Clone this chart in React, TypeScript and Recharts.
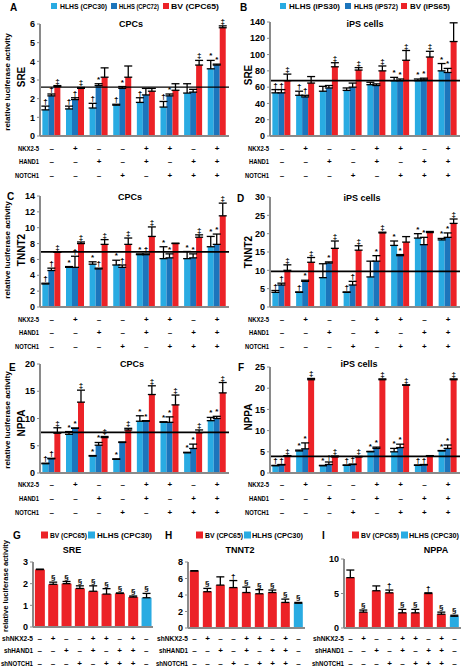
import { BarChart, Bar, XAxis, YAxis, ReferenceLine, ErrorBar, LabelList, Cell } from "recharts"

const FONT = "'Liberation Sans', Arial, sans-serif"
const LIGHT = "#29ABE2"
const DARK = "#1C75BC"
const RED = "#EC2227"

// overexpression conditions, panels A-F
const nkx = ["-", "+", "-", "-", "+", "+", "-", "+"]
const hand = ["-", "-", "+", "-", "+", "-", "+", "+"]
const notch = ["-", "-", "-", "+", "-", "+", "+", "+"]
// knockdown conditions, panels G-I
const shNkx = ["-", "+", "-", "-", "+", "+", "-", "+", "-"]
const shHand = ["-", "-", "+", "-", "+", "-", "+", "+", "-"]
const shNotch = ["-", "-", "-", "+", "-", "+", "+", "+", "-"]

// A: SRE in CPCs
const aHlhs30 = [1.4, 1.45, 1.5, 1.65, 1.8, 1.55, 2.3, 3.6]
const aHlhs30Err = [0.2, 0.15, 0.25, 0.05, 0.25, 0.3, 0.5, 0.45]
const aHlhs30Sig = ["†", "†", "†", "†", "†", "†", "", "*"]
const aHlhs72 = [2.15, 1.95, 2.7, 2.55, 2.2, 2.15, 2.35, 3.8]
const aHlhs72Err = [0.1, 0.1, 0.1, 0.1, 0.35, 0.1, 0.15, 0.05]
const aHlhs72Sig = ["†", "†", "*", "*", "", "*", "", "*"]
const aBv = [2.65, 2.55, 3.15, 3.15, 2.4, 2.45, 3.8, 5.8]
const aBvErr = [0.05, 0.05, 0.5, 0.6, 0.15, 0.35, 0.25, 0.1]
const aBvSig = ["‡", "‡", "", "", "", "", "‡", "‡"]

// B: SRE in iPS cells
const bHlhs30 = [53, 50, 55, 56, 63, 68, 68, 80]
const bHlhs30Err = [4, 5, 6, 3, 3, 4, 2, 9]
const bHlhs30Sig = ["†", "†", "", "", "", "*", "*", "*"]
const bHlhs72 = [53, 48, 59, 60, 62, 68, 69, 78]
const bHlhs72Err = [4, 2, 3, 5, 2, 2, 2, 5]
const bHlhs72Sig = ["†", "†", "", "", "", "*", "*", "*"]
const bBv = [68, 65, 85, 81, 80, 93, 97, 116]
const bBvErr = [8, 8, 5, 3, 6, 12, 7, 23]
const bBvSig = ["‡", "", "‡", "‡", "‡", "‡", "‡", ""]

// C: TNNT2 in CPCs
const cHlhs30 = [2.9, 5.0, 5.4, 5.3, 6.6, 6.1, 6.1, 7.6]
const cHlhs30Err = [0.1, 0.1, 0.3, 0.6, 0.1, 1.5, 0.9, 1.3]
const cHlhs30Sig = ["†", "*", "*", "*", "*", "*", "*", "*"]
const cHlhs72 = [4.6, 5.0, 4.8, 5.0, 6.6, 6.2, 6.2, 7.9]
const cHlhs72Err = [0.3, 1.4, 0.1, 0.3, 0.1, 0.5, 0.5, 1.3]
const cHlhs72Sig = ["†", "†", "†", "†", "†", "*", "*", "*"]
const cBv = [6.9, 8.0, 7.9, 7.9, 8.9, 8.0, 8.8, 11.5]
const cBvErr = [0.05, 0.2, 0.6, 0.8, 1.2, 0.05, 0.3, 1.6]
const cBvSig = ["‡", "‡", "‡", "‡", "‡", "", "‡", "‡"]

// D: TNNT2 in iPS cells
const dHlhs30 = [4, 4, 8, 4, 8.2, 16.8, 18.8, 18.3]
const dHlhs30Err = [0.5, 0.1, 3.8, 0.1, 4.3, 1.2, 1.2, 0.4]
const dHlhs30Sig = ["†", "†", "", "†", "", "*", "*", "*"]
const dHlhs72 = [6, 7, 12, 6, 12.5, 14, 17, 19]
const dHlhs72Err = [0.5, 0.3, 0.3, 1, 1.5, 0.3, 2, 1.2]
const dHlhs72Sig = ["†", "*", "*", "†", "*", "*", "*", "*"]
const dBv = [10, 12.2, 16, 15.5, 20.2, 17.7, 20.3, 22.8]
const dBvErr = [1.5, 1.3, 2, 1.2, 0.2, 1.5, 0.3, 1.2]
const dBvSig = ["‡", "‡", "‡", "‡", "‡", "", "", "‡"]

// E: NPPA in CPCs
const eHlhs30 = [1.7, 7.1, 3.1, 2.5, 9.5, 9.3, 3.7, 9.6]
const eHlhs30Err = [0.1, 0.5, 0.1, 0.1, 1.0, 0.1, 0.1, 0.6]
const eHlhs30Sig = ["†", "*", "*", "*", "*", "*", "*", "*"]
const eHlhs72 = [2.6, 8.2, 5.1, 5.6, 9.5, 9.3, 4.5, 10.0]
const eHlhs72Err = [0.1, 0.05, 0.5, 0.1, 0.1, 1.0, 0.8, 0.4]
const eHlhs72Sig = ["†", "*", "*", "", "*", "*", "*", "*"]
const eBv = [7.3, 13.0, 6.5, 7.9, 14.4, 12.5, 7.4, 14.7]
const eBvErr = [1.0, 2.2, 0.2, 0.3, 1.6, 1.8, 0.5, 1.9]
const eBvSig = ["‡", "‡", "‡", "‡", "‡", "‡", "‡", "‡"]

// F: NPPA in iPS cells
const fHlhs30 = [1.7, 5.2, 1.7, 1.8, 5.0, 5.0, 1.8, 5.2]
const fHlhs30Err = [0.1, 0.2, 0.1, 0.1, 0.1, 0.8, 0.1, 0.1]
const fHlhs30Sig = ["†", "*", "*", "†", "*", "*", "†", "*"]
const fHlhs72 = [1.9, 5.7, 2.0, 2.0, 5.8, 6.0, 1.9, 5.8]
const fHlhs72Err = [0.1, 1.4, 0.6, 0.1, 0.3, 0.8, 0.1, 0.8]
const fHlhs72Sig = ["†", "*", "†", "†", "*", "*", "†", "*"]
const fBv = [4.0, 22, 3.8, 3.8, 22, 20.7, 4.0, 22]
const fBvErr = [0.1, 0.3, 0.2, 0.1, 0.2, 0.1, 0.1, 0.2]
const fBvSig = ["‡", "‡", "‡", "‡", "‡", "‡", "", "‡"]

// G-I: knockdown in BV CPC65, last bar HLHS CPC30
const gSre = [2.65, 1.97, 2.0, 1.78, 1.65, 1.52, 1.55, 1.38, 1.35]
const gSreErr = [0.02, 0.1, 0.1, 0.12, 0.25, 0.25, 0.02, 0.05, 0.2]
const gSreSig = ["", "§", "§", "§", "§", "§", "§", "§", "§"]
const hTnnt2 = [6.9, 4.4, 5.2, 4.9, 4.3, 4.15, 4.3, 3.1, 3.0]
const hTnnt2Err = [0.05, 0.4, 1.0, 0.85, 0.65, 0.5, 0.3, 0.4, 0.1]
const hTnnt2Sig = ["", "§", "", "†", "§", "§", "§", "§", "§"]
const iNppa = [7.3, 2.3, 5.4, 5.1, 2.2, 2.2, 5.0, 2.0, 1.7]
const iNppaErr = [1.1, 0.3, 0.7, 0.4, 0.5, 0.5, 0.1, 0.3, 0.15]
const iNppaSig = ["", "§", "", "†", "§", "§", "†", "§", "§"]
const kdColors = [RED, RED, RED, RED, RED, RED, RED, RED, LIGHT]

interface Series {
  values: number[]
  errors: number[]
  marks: string[]
  color: string
  colors?: string[]
}

interface PanelProps {
  x: number
  y: number
  w: number
  h: number
  max: number
  ticks: number[]
  refY?: number
  refW?: number
  rows: string[][]
  rowStart: number
  rowStep: number
  gap: string
  series: Series[]
}

const YW = 22
const MT = 16
const MR = 3

function markRenderer(s: Series) {
  return (props: any) => {
    const vb = props.viewBox && props.viewBox.width != null ? props.viewBox : props
    const i = props.index
    const m = s.marks[i]
    if (!m) return null
    const v = s.values[i]
    const hgt = Math.abs(vb.height)
    const errPx = v > 0 ? (s.errors[i] * hgt) / v : 0
    return (
      <text
        x={vb.x + vb.width / 2}
        y={vb.y - errPx - 2}
        textAnchor="middle"
        fontSize={8}
        fontWeight={700}
        fontFamily={FONT}
        fill="#000"
      >
        {m}
      </text>
    )
  }
}

function Panel({ x, y, w, h, max, ticks, refY, refW = 1.8, rows, rowStart, rowStep, gap, series }: PanelProps) {
  const n = series[0].values.length
  const data = Array.from({ length: n }, (_, i) => {
    const d: any = { name: rows.map((r) => r[i]).join("|") }
    series.forEach((s, k) => {
      d["v" + k] = s.values[i]
      d["e" + k] = [0, s.errors[i]]
    })
    return d
  })
  const xh = rowStart + rowStep * 2 + 8
  const base = MT + h

  const RowTick = (p: any) => {
    const parts = String(p.payload.value).split("|")
    return (
      <g>
        {parts.map((t, k) => (
          <text
            key={k}
            x={p.x}
            y={base + rowStart + rowStep * k}
            textAnchor="middle"
            dominantBaseline="central"
            fontSize={8}
            fontWeight={700}
            fontFamily={FONT}
            fill="#000"
          >
            {t === "-" ? "–" : t}
          </text>
        ))}
      </g>
    )
  }

  return (
    <div style={{ position: "absolute", left: x - YW, top: y - MT }}>
      <BarChart
        width={w + YW + MR}
        height={h + MT + xh}
        data={data}
        margin={{ top: MT, right: MR, left: 0, bottom: 0 }}
        barGap={0}
        barCategoryGap={gap}
      >
        <XAxis
          dataKey="name"
          height={xh}
          interval={0}
          tick={RowTick}
          tickLine={false}
          axisLine={{ stroke: "#8a8a8a", strokeWidth: 2 }}
        />
        <YAxis
          width={YW}
          domain={[0, max]}
          ticks={ticks}
          interval={0}
          tickSize={3}
          tickLine={{ stroke: "#8a8a8a" }}
          axisLine={{ stroke: "#8a8a8a", strokeWidth: 2 }}
          tick={{ fill: "#000", fontSize: 9, fontWeight: 700, fontFamily: FONT }}
        />
        {series.map((s, k) => (
          <Bar key={k} dataKey={"v" + k} fill={s.color} isAnimationActive={false}>
            {s.colors && s.colors.map((c, i) => <Cell key={i} fill={c} />)}
            <ErrorBar dataKey={"e" + k} width={4} stroke="#000" strokeWidth={1.3} direction="y" />
            <LabelList dataKey={"v" + k} content={markRenderer(s)} />
          </Bar>
        ))}
        {refY != null && <ReferenceLine y={refY} stroke="#000" strokeWidth={refW} />}
      </BarChart>
    </div>
  )
}

function Txt(props: {
  x: number
  y: number
  size?: number
  anchor?: "start" | "middle" | "end"
  rot?: boolean
  len?: number
  children: string
}) {
  const { x, y, size = 9, anchor = "start", rot, len, children } = props
  return (
    <text
      x={x}
      y={y}
      fontSize={size}
      fontWeight={700}
      fontFamily={FONT}
      textAnchor={anchor}
      dominantBaseline="central"
      fill="#000"
      textLength={len}
      lengthAdjust={len ? "spacingAndGlyphs" : undefined}
      transform={rot ? `rotate(-90 ${x} ${y})` : undefined}
    >
      {children}
    </text>
  )
}

function LegendItem(props: { x: number; y: number; tx: number; len: number; color: string; label: string; sq?: number }) {
  const { x, y, tx, len, color, label, sq = 6 } = props
  return (
    <g>
      <rect x={x} y={y - sq / 2} width={sq} height={sq} fill={color} />
      <Txt x={tx} y={y} size={8} len={len}>
        {label}
      </Txt>
    </g>
  )
}

const ovRows = [nkx, hand, notch]
const kdRows = [shNkx, shHand, shNotch]
const ovLabels = ["NKX2-5", "HAND1", "NOTCH1"]
const ovLens = [21, 20, 24]
const kdLabels = ["shNKX2-5", "shHAND1", "shNOTCH1"]
const kdLens = [31, 29, 32]

export default function App() {
  return (
    <div
      style={{
        position: "absolute",
        left: 0,
        top: 0,
        width: 466,
        height: 668,
        background: "#fff",
        overflow: "hidden",
      }}
    >
      <Panel
        x={40} y={24} w={189} h={112} max={6} ticks={[0, 1, 2, 3, 4, 5, 6]} refY={2.62} refW={1.2}
        rows={ovRows} rowStart={12} rowStep={13.5} gap="10%"
        series={[
          { values: aHlhs30, errors: aHlhs30Err, marks: aHlhs30Sig, color: LIGHT },
          { values: aHlhs72, errors: aHlhs72Err, marks: aHlhs72Sig, color: DARK },
          { values: aBv, errors: aBvErr, marks: aBvSig, color: RED },
        ]}
      />
      <Panel
        x={270} y={22} w={190} h={114} max={140} ticks={[0, 20, 40, 60, 80, 100, 120, 140]} refY={68}
        rows={ovRows} rowStart={12} rowStep={13.5} gap="10%"
        series={[
          { values: bHlhs30, errors: bHlhs30Err, marks: bHlhs30Sig, color: LIGHT },
          { values: bHlhs72, errors: bHlhs72Err, marks: bHlhs72Sig, color: DARK },
          { values: bBv, errors: bBvErr, marks: bBvSig, color: RED },
        ]}
      />
      <Panel
        x={40} y={196} w={189} h={111} max={14} ticks={[0, 2, 4, 6, 8, 10, 12, 14]} refY={6.95}
        rows={ovRows} rowStart={12} rowStep={13.5} gap="10%"
        series={[
          { values: cHlhs30, errors: cHlhs30Err, marks: cHlhs30Sig, color: LIGHT },
          { values: cHlhs72, errors: cHlhs72Err, marks: cHlhs72Sig, color: DARK },
          { values: cBv, errors: cBvErr, marks: cBvSig, color: RED },
        ]}
      />
      <Panel
        x={270} y={197} w={190} h={110} max={30} ticks={[0, 5, 10, 15, 20, 25, 30]} refY={9.7}
        rows={ovRows} rowStart={12} rowStep={13.5} gap="10%"
        series={[
          { values: dHlhs30, errors: dHlhs30Err, marks: dHlhs30Sig, color: LIGHT },
          { values: dHlhs72, errors: dHlhs72Err, marks: dHlhs72Sig, color: DARK },
          { values: dBv, errors: dBvErr, marks: dBvSig, color: RED },
        ]}
      />
      <Panel
        x={40} y={364} w={189} h={109} max={20} ticks={[0, 5, 10, 15, 20]} refY={7.45}
        rows={ovRows} rowStart={11} rowStep={14} gap="10%"
        series={[
          { values: eHlhs30, errors: eHlhs30Err, marks: eHlhs30Sig, color: LIGHT },
          { values: eHlhs72, errors: eHlhs72Err, marks: eHlhs72Sig, color: DARK },
          { values: eBv, errors: eBvErr, marks: eBvSig, color: RED },
        ]}
      />
      <Panel
        x={270} y={367} w={190} h={106} max={25} ticks={[0, 5, 10, 15, 20, 25]} refY={3.9}
        rows={ovRows} rowStart={11} rowStep={14} gap="10%"
        series={[
          { values: fHlhs30, errors: fHlhs30Err, marks: fHlhs30Sig, color: LIGHT },
          { values: fHlhs72, errors: fHlhs72Err, marks: fHlhs72Sig, color: DARK },
          { values: fBv, errors: fBvErr, marks: fBvSig, color: RED },
        ]}
      />
      <Panel
        x={33} y={562} w={120} h={65} max={3} ticks={[0, 1, 2, 3]}
        rows={kdRows} rowStart={11} rowStep={12.5} gap="14%"
        series={[{ values: gSre, errors: gSreErr, marks: gSreSig, color: RED, colors: kdColors }]}
      />
      <Panel
        x={188} y={562} w={117} h={66} max={8} ticks={[0, 2, 4, 6, 8]}
        rows={kdRows} rowStart={10} rowStep={12.5} gap="14%"
        series={[{ values: hTnnt2, errors: hTnnt2Err, marks: hTnnt2Sig, color: RED, colors: kdColors }]}
      />
      <Panel
        x={344} y={559} w={117} h={69} max={10} ticks={[0, 5, 10]}
        rows={kdRows} rowStart={10} rowStep={12.5} gap="14%"
        series={[{ values: iNppa, errors: iNppaErr, marks: iNppaSig, color: RED, colors: kdColors }]}
      />

      <svg
        width={466}
        height={668}
        style={{ position: "absolute", left: 0, top: 0, pointerEvents: "none" }}
      >
        <Txt x={10} y={7} size={10}>A</Txt>
        <Txt x={240} y={7} size={10}>B</Txt>
        <Txt x={7} y={196} size={10}>C</Txt>
        <Txt x={237} y={198} size={10}>D</Txt>
        <Txt x={9} y={367} size={10}>E</Txt>
        <Txt x={238} y={367} size={10}>F</Txt>
        <Txt x={13} y={535} size={10}>G</Txt>
        <Txt x={165} y={535} size={10}>H</Txt>
        <Txt x={322} y={535} size={10}>I</Txt>

        <LegendItem x={51} y={6} tx={60} len={47} color={LIGHT} label="HLHS (CPC30)" />
        <LegendItem x={111} y={6} tx={119} len={40} color={DARK} label="HLHS (CPC72)" />
        <LegendItem x={163} y={6} tx={171} len={48} color={RED} label="BV (CPC65)" />
        <LegendItem x={280} y={6} tx={289} len={51} color={LIGHT} label="HLHS (iPS30)" />
        <LegendItem x={345} y={6} tx={354} len={44} color={DARK} label="HLHS (iPS72)" />
        <LegendItem x={401} y={6} tx={410} len={40} color={RED} label="BV (iPS65)" />
        <LegendItem x={41} y={535} sq={7} tx={50} len={37} color={RED} label="BV (CPC65)" />
        <LegendItem x={88} y={535} sq={7} tx={97} len={55} color={LIGHT} label="HLHS (CPC30)" />
        <LegendItem x={196} y={535} sq={7} tx={205} len={38} color={RED} label="BV (CPC65)" />
        <LegendItem x={244} y={535} sq={7} tx={252} len={51} color={LIGHT} label="HLHS (CPC30)" />
        <LegendItem x={352} y={535} sq={7} tx={361} len={38} color={RED} label="BV (CPC65)" />
        <LegendItem x={401} y={535} sq={7} tx={409} len={50} color={LIGHT} label="HLHS (CPC30)" />

        <Txt x={131} y={24} anchor="middle">CPCs</Txt>
        <Txt x={365} y={24} anchor="middle">iPS cells</Txt>
        <Txt x={130} y={197} anchor="middle">CPCs</Txt>
        <Txt x={362} y={198} anchor="middle">iPS cells</Txt>
        <Txt x={132} y={364} anchor="middle">CPCs</Txt>
        <Txt x={359} y={364} anchor="middle">iPS cells</Txt>
        <Txt x={72} y={550} anchor="middle">SRE</Txt>
        <Txt x={240} y={550} anchor="middle">TNNT2</Txt>
        <Txt x={436} y={550} anchor="middle">NPPA</Txt>

        <Txt x={7} y={82} size={8} anchor="middle" rot>relative luciferase activity</Txt>
        <Txt x={7} y={250} size={8} anchor="middle" rot>relative luciferase activity</Txt>
        <Txt x={7} y={420} size={8} anchor="middle" rot>relative luciferase activity</Txt>
        <Txt x={5} y={586} size={8} anchor="middle" rot len={92}>relative luciferase activity</Txt>

        <Txt x={21} y={77} size={10} anchor="middle" rot>SRE</Txt>
        <Txt x={248} y={75} size={10} anchor="middle" rot>SRE</Txt>
        <Txt x={21} y={250} size={10} anchor="middle" rot>TNNT2</Txt>
        <Txt x={248} y={252} size={10} anchor="middle" rot>TNNT2</Txt>
        <Txt x={21} y={423} size={10} anchor="middle" rot>NPPA</Txt>
        <Txt x={248} y={417} size={10} anchor="middle" rot>NPPA</Txt>

        {ovLabels.map((l, k) => (
          <g key={"ov" + k}>
            <Txt x={39 - ovLens[k]} y={148 + k * 13.5} size={7} len={ovLens[k]}>{l}</Txt>
            <Txt x={269 - ovLens[k]} y={148 + k * 13.5} size={7} len={ovLens[k]}>{l}</Txt>
            <Txt x={39 - ovLens[k]} y={319 + k * 13.5} size={7} len={ovLens[k]}>{l}</Txt>
            <Txt x={269 - ovLens[k]} y={319 + k * 13.5} size={7} len={ovLens[k]}>{l}</Txt>
            <Txt x={39 - ovLens[k]} y={484 + k * 14} size={7} len={ovLens[k]}>{l}</Txt>
            <Txt x={269 - ovLens[k]} y={484 + k * 14} size={7} len={ovLens[k]}>{l}</Txt>
          </g>
        ))}
        {kdLabels.map((l, k) => (
          <g key={"kd" + k}>
            <Txt x={33 - kdLens[k]} y={638 + k * 12.5} size={7} len={kdLens[k]}>{l}</Txt>
            <Txt x={188 - kdLens[k]} y={638 + k * 12.5} size={7} len={kdLens[k]}>{l}</Txt>
            <Txt x={344 - kdLens[k]} y={638 + k * 12.5} size={7} len={kdLens[k]}>{l}</Txt>
          </g>
        ))}
      </svg>
    </div>
  )
}
